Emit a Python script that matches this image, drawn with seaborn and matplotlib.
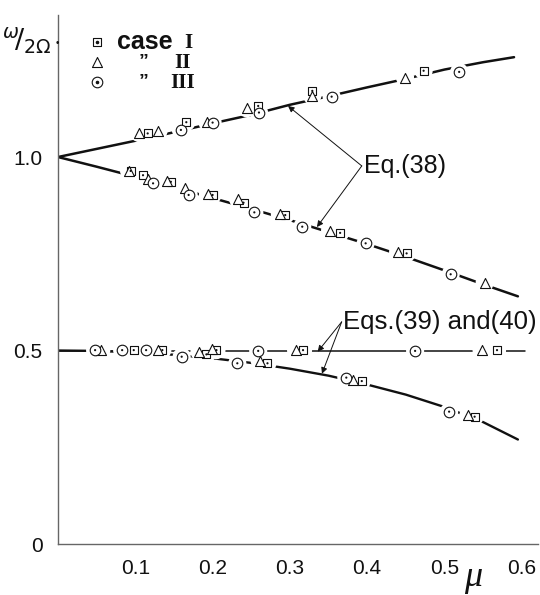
import numpy as np
import pandas as pd
import matplotlib
matplotlib.use("Agg")
import matplotlib.pyplot as plt
import seaborn as sns

# ---------------- theory curves ----------------
eq38_mu_up = [0.0, 0.05, 0.10, 0.15, 0.20, 0.25, 0.30, 0.35, 0.40, 0.45, 0.50, 0.55, 0.59]
eq38_w_up = [1.0, 1.021, 1.042, 1.064, 1.087, 1.109, 1.135, 1.157, 1.180, 1.202, 1.226, 1.245, 1.258]
eq38_mu_lo = [0.0, 0.05, 0.10, 0.15, 0.20, 0.25, 0.30, 0.35, 0.40, 0.45, 0.50, 0.55, 0.595]
eq38_w_lo = [1.0, 0.975, 0.949, 0.922, 0.894, 0.866, 0.837, 0.806, 0.775, 0.742, 0.707, 0.671, 0.640]
eq39_mu = [0.0, 0.604]
eq39_w = [0.5, 0.5]
eq40_mu = [0.0, 0.05, 0.10, 0.15, 0.20, 0.25, 0.30, 0.35, 0.40, 0.45, 0.50, 0.55, 0.595]
eq40_w = [0.5, 0.499, 0.495, 0.489, 0.480, 0.468, 0.453, 0.435, 0.412, 0.386, 0.354, 0.315, 0.270]

# ---------------- measured points ----------------
# case I (squares)
case1_mu = [0.116, 0.166, 0.259, 0.329, 0.473,
            0.094, 0.110, 0.146, 0.200, 0.240, 0.294, 0.365, 0.451,
            0.098, 0.135, 0.205, 0.317, 0.568,
            0.192, 0.271, 0.393, 0.539]
case1_w = [1.061, 1.090, 1.132, 1.171, 1.223,
           0.964, 0.953, 0.936, 0.902, 0.882, 0.850, 0.804, 0.751,
           0.501, 0.501, 0.501, 0.501, 0.501,
           0.490, 0.467, 0.421, 0.329]
# case II (triangles)
case2_mu = [0.105, 0.130, 0.193, 0.244, 0.329, 0.449,
            0.092, 0.117, 0.141, 0.164, 0.194, 0.233, 0.287, 0.352, 0.440, 0.552,
            0.056, 0.130, 0.199, 0.308, 0.548,
            0.183, 0.261, 0.382, 0.531]
case2_w = [1.062, 1.067, 1.091, 1.126, 1.158, 1.205,
           0.964, 0.943, 0.938, 0.921, 0.904, 0.891, 0.853, 0.810, 0.754, 0.675,
           0.501, 0.501, 0.504, 0.501, 0.501,
           0.497, 0.473, 0.424, 0.333]
# case III (circles)
case3_mu = [0.159, 0.200, 0.260, 0.354, 0.519,
            0.123, 0.169, 0.254, 0.316, 0.398, 0.508,
            0.048, 0.083, 0.114, 0.259, 0.462,
            0.160, 0.232, 0.373, 0.506]
case3_w = [1.070, 1.089, 1.115, 1.156, 1.220,
           0.932, 0.902, 0.857, 0.820, 0.777, 0.697,
           0.501, 0.501, 0.501, 0.499, 0.499,
           0.484, 0.467, 0.430, 0.342]

x_ticks = [0.1, 0.2, 0.3, 0.4, 0.5, 0.6]
x_ticklabels = ["0.1", "0.2", "0.3", "0.4", "0.5", "0.6"]
y_ticks = [0.0, 0.1, 0.2, 0.3, 0.4, 0.5, 0.6, 0.7, 0.8, 0.9, 1.0, 1.1, 1.2, 1.3]
y_ticklabels = ["0", "", "", "", "", "0.5", "", "", "", "", "1.0", "", "", ""]

# ---------------- figure ----------------
sns.set_style("white")
plt.rcParams["font.family"] = ["Liberation Sans", "DejaVu Sans"]

W, H = 540, 595
fig = plt.figure(figsize=(W / 100, H / 100), dpi=100)
fig.patch.set_facecolor("white")
ax = fig.add_axes([58 / W, 51 / H, 480 / W, 529 / H])

ink = "#111111"

sns.lineplot(x=eq38_mu_up, y=eq38_w_up, ax=ax, color=ink, lw=1.8, zorder=2, sort=False)
sns.lineplot(x=eq38_mu_lo, y=eq38_w_lo, ax=ax, color=ink, lw=1.8, zorder=2, sort=False)
sns.lineplot(x=eq39_mu, y=eq39_w, ax=ax, color=ink, lw=1.1, zorder=2, sort=False)
sns.lineplot(x=eq40_mu, y=eq40_w, ax=ax, color=ink, lw=1.7, zorder=2, sort=False)

# white halos that break the curves around each point
all_mu = case1_mu + case2_mu + case3_mu
all_w = case1_w + case2_w + case3_w
sns.scatterplot(x=all_mu, y=all_w, ax=ax, marker="o", s=170, color="white",
                edgecolor="none", linewidth=0, zorder=3, legend=False)

SQ, TR, CI = 38, 52, 58
cases = [(case1_mu, case1_w, "s", SQ, True),
         (case2_mu, case2_w, "^", TR, False),
         (case3_mu, case3_w, "o", CI, True)]
for mu, w, mk, sz, dot in cases:
    sns.scatterplot(x=mu, y=w, ax=ax, marker=mk, s=sz, facecolor="white",
                    edgecolor=ink, linewidth=0.8, zorder=4, legend=False)
    if dot:
        sns.scatterplot(x=mu, y=w, ax=ax, marker="o", s=2.5, color=ink,
                        edgecolor="none", linewidth=0, zorder=5, legend=False)

# ---------------- axes ----------------
ax.set_xlim(0, 0.621)
ax.set_ylim(0, 1.367)
for s in ["top", "right"]:
    ax.spines[s].set_visible(False)
for s in ["left", "bottom"]:
    ax.spines[s].set_color("#666666")
    ax.spines[s].set_linewidth(1.0)
ax.set_xticks(x_ticks)
ax.set_xticklabels(x_ticklabels)
ax.set_yticks(y_ticks)
ax.set_yticklabels(y_ticklabels)
ax.tick_params(axis="both", direction="in", length=5, width=0.8, color="#333333",
               labelsize=15, labelcolor=ink)
ax.tick_params(axis="y", pad=11)
ax.tick_params(axis="x", pad=11)
ax.set_xlabel("")
ax.set_ylabel("")

# axis labels
fig.text(473 / W, 1 - 577 / H, "μ", fontsize=26, style="italic",
         family=["Liberation Serif", "DejaVu Serif"], ha="center", va="center", color=ink)
fig.text(27 / W, 1 - 41 / H, r"$^{\omega}\!/_{2\Omega}$", fontsize=19.5,
         ha="center", va="center", color=ink)
fig.text(57.5 / W, 1 - 43 / H, "•", fontsize=7, ha="center", va="center", color=ink)

# ---------------- legend (drawn manually) ----------------
lx = 0.081
rows = [0.949, 0.912, 0.874]
ax.scatter([lx], [rows[0]], marker="s", s=SQ, facecolor="white", edgecolor=ink,
           linewidth=0.8, transform=ax.transAxes, zorder=6, clip_on=False)
ax.scatter([lx], [rows[0]], marker="o", s=2.5, color=ink, transform=ax.transAxes, zorder=7)
ax.scatter([lx], [rows[1]], marker="^", s=TR, facecolor="white", edgecolor=ink,
           linewidth=0.8, transform=ax.transAxes, zorder=6, clip_on=False)
ax.scatter([lx], [rows[2]], marker="o", s=CI, facecolor="white", edgecolor=ink,
           linewidth=0.8, transform=ax.transAxes, zorder=6, clip_on=False)
ax.scatter([lx], [rows[2]], marker="o", s=2.5, color=ink, transform=ax.transAxes, zorder=7)

ax.text(0.122, rows[0], "case", transform=ax.transAxes, fontsize=18, fontweight="bold",
        ha="left", va="center", color=ink)
ax.text(0.271, rows[0] - 0.002, "I", transform=ax.transAxes, fontsize=15, fontweight="bold",
        family=["Liberation Serif"], ha="center", va="center", color=ink)
ax.text(0.178, rows[1], "\u201d", transform=ax.transAxes, fontsize=14, fontweight="bold",
        ha="center", va="center", color=ink)
ax.text(0.260, rows[1] - 0.002, "II", transform=ax.transAxes, fontsize=15, fontweight="bold",
        family=["Liberation Serif"], ha="center", va="center", color=ink)
ax.text(0.178, rows[2], "\u201d", transform=ax.transAxes, fontsize=14, fontweight="bold",
        ha="center", va="center", color=ink)
ax.text(0.259, rows[2] - 0.002, "III", transform=ax.transAxes, fontsize=15, fontweight="bold",
        family=["Liberation Serif"], ha="center", va="center", color=ink)

# ---------------- annotations ----------------
arrow_kw = dict(arrowstyle="-|>", lw=0.7, color=ink, mutation_scale=9,
                shrinkA=0, shrinkB=0)
v38 = (0.393, 0.977)
ax.annotate("", xy=(0.2976, 1.132), xytext=v38, arrowprops=arrow_kw, zorder=6)
ax.annotate("", xy=(0.335, 0.819), xytext=v38, arrowprops=arrow_kw, zorder=6)
ax.text(0.396, 0.977, "Eq.(38)", fontsize=18, ha="left", va="center", color=ink)

v39 = (0.367, 0.574)
ax.annotate("", xy=(0.336, 0.497), xytext=v39, arrowprops=arrow_kw, zorder=6)
ax.annotate("", xy=(0.3415, 0.440), xytext=v39, arrowprops=arrow_kw, zorder=6)
ax.text(0.369, 0.574, "Eqs.(39) and(40)", fontsize=18.5, ha="left", va="center", color=ink)

fig.savefig("out.png", dpi=100, facecolor="white")
